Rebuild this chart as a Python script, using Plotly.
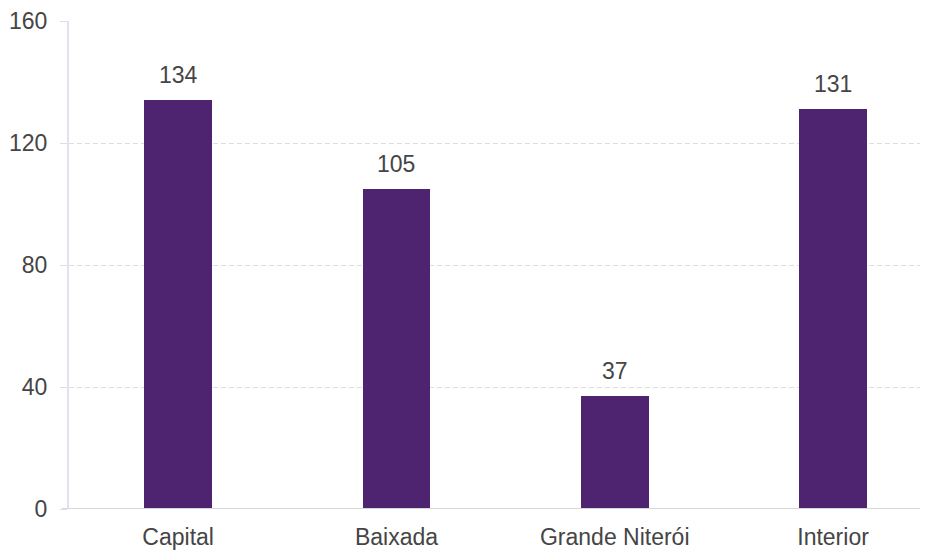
import plotly.graph_objects as go

categories = ["Capital", "Baixada", "Grande Niterói", "Interior"]
values = [134, 105, 37, 131]
y_ticks = [0, 40, 80, 120, 160]

bar_color = "#4e2370"
text_color = "#454545"
font_family = "Liberation Sans, Arial, sans-serif"
fs = 23

fig = go.Figure()
fig.add_trace(go.Bar(
    x=list(range(len(categories))),
    y=values,
    width=0.311,
    marker=dict(color=bar_color, line=dict(width=0)),
    hoverinfo="skip",
))

for i, v in enumerate(values):
    fig.add_annotation(
        x=i, y=v, text=str(v), showarrow=False,
        yanchor="bottom", yshift=10,
        font=dict(size=fs, color=text_color, family=font_family),
    )

# page body has an 8px offset, so the figure is sized/margined accordingly
fig.update_layout(
    width=920, height=542,
    margin=dict(l=61, r=0, t=13, b=33, pad=0),
    paper_bgcolor="white", plot_bgcolor="white",
    showlegend=False,
    font=dict(family=font_family, size=fs, color=text_color),
    bargap=0,
)
fig.update_xaxes(
    range=[-0.5, 3.435],
    tickmode="array",
    tickvals=list(range(len(categories))),
    ticktext=categories,
    showgrid=False, zeroline=False,
    showline=False,
    ticks="", ticklabelstandoff=12,
    tickfont=dict(size=fs, color=text_color),
)
fig.update_yaxes(
    range=[0, 160],
    tickmode="array", tickvals=y_ticks,
    showgrid=True, gridcolor="#dedede", griddash="5px,3px", gridwidth=1,
    zeroline=False,
    showline=True, linecolor="#e4e0ee", linewidth=2,
    ticks="outside", ticklen=7, tickcolor="#dedede", tickwidth=1,
    ticklabelstandoff=8,
    tickfont=dict(size=fs, color=text_color),
)
# bottom axis line
fig.add_shape(type="line", xref="paper", yref="y", x0=-7/859, x1=1, y0=0, y1=0,
              line=dict(color="#d8d8d8", width=2), layer="above")

fig.write_html("out.html")
